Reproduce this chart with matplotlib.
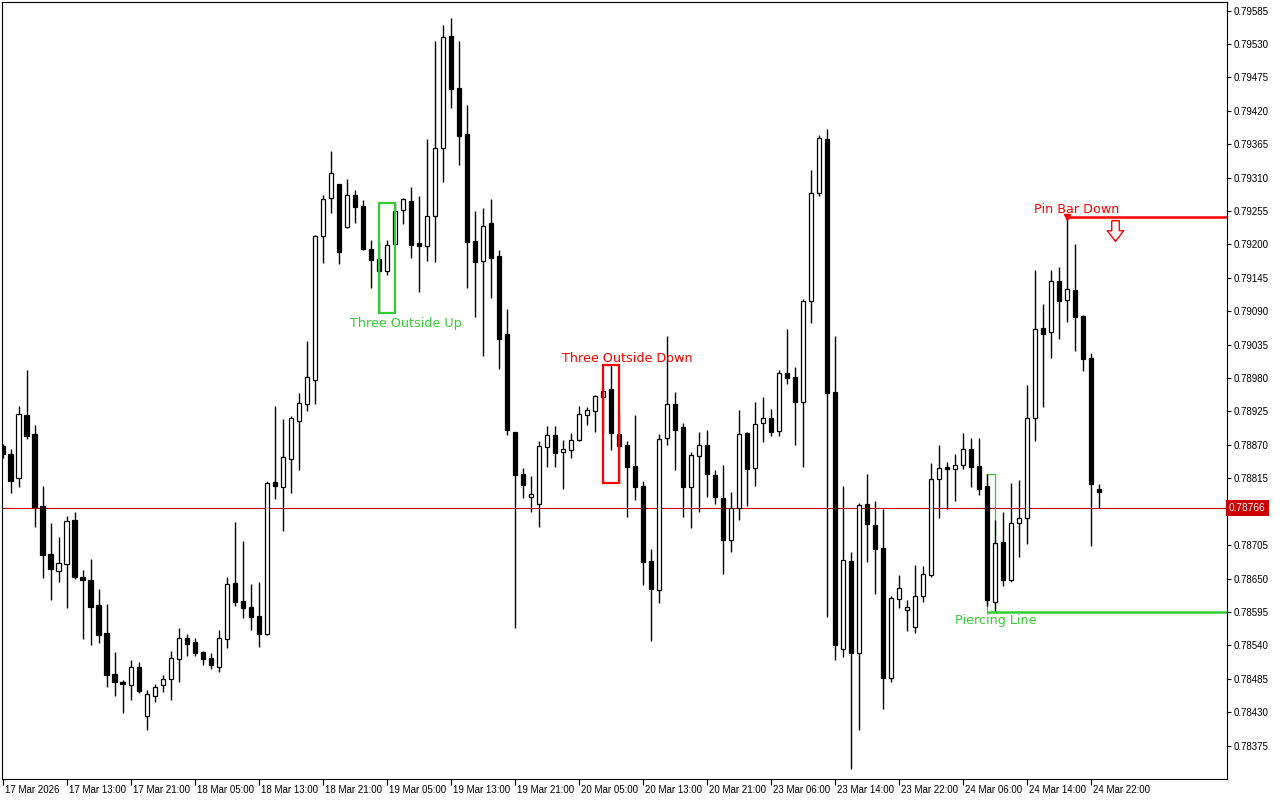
import numpy as np
import matplotlib
matplotlib.use("Agg")
import matplotlib.pyplot as plt
import matplotlib.transforms as mtransforms
from matplotlib.patches import Rectangle
from matplotlib.path import Path

# hourly candles (index 0 = first bar on the left)
opens = [
    0.78868, 0.78855, 0.78815, 0.78919, 0.78888, 0.78770, 0.78690, 0.78663, 0.78674, 0.78746,
    0.78653, 0.78648, 0.78607, 0.78560, 0.78493, 0.78480, 0.78475, 0.78505, 0.78424, 0.78457,
    0.78475, 0.78484, 0.78518, 0.78552, 0.78546, 0.78529, 0.78519, 0.78505, 0.78550, 0.78642,
    0.78613, 0.78603, 0.78588, 0.78559, 0.78809, 0.78801, 0.78847, 0.78910, 0.78937, 0.78976,
    0.79213, 0.79276, 0.79299, 0.79229, 0.79281, 0.79264, 0.79192, 0.79176, 0.79157, 0.79201,
    0.79256, 0.79271, 0.79202, 0.79198, 0.79246, 0.79358, 0.79543, 0.79457, 0.79381, 0.79206,
    0.79173, 0.79235, 0.79181, 0.79052, 0.78891, 0.78822, 0.78784, 0.78773, 0.78867, 0.78886,
    0.78858, 0.78862, 0.78878, 0.78919, 0.78925, 0.78948, 0.78962, 0.78888, 0.78870, 0.78835,
    0.78802, 0.78679, 0.78631, 0.78881, 0.78937, 0.78899, 0.78800, 0.78851, 0.78869, 0.78821,
    0.78783, 0.78713, 0.78766, 0.78890, 0.78832, 0.78906, 0.78915, 0.78893, 0.78989, 0.78982,
    0.78941, 0.79107, 0.79284, 0.79374, 0.78957, 0.78534, 0.78679, 0.78527, 0.78773, 0.78738,
    0.78700, 0.78487, 0.78616, 0.78599, 0.78570, 0.78621, 0.78655, 0.78814, 0.78833, 0.78830,
    0.78837, 0.78863, 0.78835, 0.78802, 0.78612, 0.78710, 0.78647, 0.78742, 0.78750, 0.78915,
    0.79063, 0.79055, 0.79139, 0.79108, 0.79125, 0.79082, 0.79013, 0.78798,
]
highs = [
    0.78872, 0.78864, 0.78934, 0.78994, 0.78903, 0.78802, 0.78741, 0.78718, 0.78753, 0.78760,
    0.78664, 0.78682, 0.78633, 0.78608, 0.78529, 0.78483, 0.78516, 0.78513, 0.78467, 0.78477,
    0.78491, 0.78531, 0.78569, 0.78559, 0.78552, 0.78530, 0.78528, 0.78565, 0.78652, 0.78743,
    0.78712, 0.78641, 0.78645, 0.78810, 0.78934, 0.78913, 0.78918, 0.78955, 0.79041, 0.79215,
    0.79281, 0.79354, 0.79300, 0.79307, 0.79289, 0.79273, 0.79207, 0.79204, 0.79208, 0.79268,
    0.79277, 0.79295, 0.79280, 0.79374, 0.79534, 0.79561, 0.79573, 0.79535, 0.79430, 0.79255,
    0.79260, 0.79275, 0.79191, 0.79094, 0.78892, 0.78832, 0.78818, 0.78876, 0.78901, 0.78901,
    0.78878, 0.78890, 0.78934, 0.78932, 0.78952, 0.78964, 0.79001, 0.78923, 0.78876, 0.78919,
    0.78810, 0.78699, 0.78888, 0.79049, 0.78957, 0.78906, 0.78859, 0.78892, 0.78894, 0.78829,
    0.78837, 0.78793, 0.78928, 0.78891, 0.78940, 0.78949, 0.78929, 0.78993, 0.79061, 0.78999,
    0.79110, 0.79322, 0.79380, 0.79390, 0.79049, 0.78803, 0.78693, 0.78774, 0.78822, 0.78778,
    0.78765, 0.78621, 0.78655, 0.78614, 0.78673, 0.78671, 0.78840, 0.78870, 0.78841, 0.78855,
    0.78890, 0.78881, 0.78882, 0.78822, 0.78746, 0.78759, 0.78807, 0.78812, 0.78969, 0.79158,
    0.79102, 0.79158, 0.79163, 0.79245, 0.79200, 0.79083, 0.79021, 0.78806,
]
lows = [
    0.78849, 0.78791, 0.78800, 0.78880, 0.78735, 0.78651, 0.78615, 0.78645, 0.78602, 0.78649,
    0.78551, 0.78540, 0.78544, 0.78472, 0.78456, 0.78429, 0.78450, 0.78462, 0.78400, 0.78446,
    0.78463, 0.78450, 0.78480, 0.78523, 0.78523, 0.78507, 0.78501, 0.78496, 0.78536, 0.78604,
    0.78585, 0.78565, 0.78538, 0.78557, 0.78781, 0.78728, 0.78791, 0.78829, 0.78925, 0.78937,
    0.79170, 0.79251, 0.79167, 0.79227, 0.79236, 0.79190, 0.79129, 0.79087, 0.79149, 0.79200,
    0.79233, 0.79178, 0.79121, 0.79172, 0.79171, 0.79303, 0.79424, 0.79330, 0.79129, 0.79081,
    0.79017, 0.79111, 0.78995, 0.78886, 0.78568, 0.78782, 0.78759, 0.78735, 0.78834, 0.78834,
    0.78798, 0.78849, 0.78876, 0.78903, 0.78891, 0.78889, 0.78862, 0.78807, 0.78752, 0.78780,
    0.78640, 0.78547, 0.78610, 0.78870, 0.78829, 0.78751, 0.78733, 0.78760, 0.78785, 0.78773,
    0.78657, 0.78694, 0.78746, 0.78770, 0.78803, 0.78875, 0.78884, 0.78884, 0.78971, 0.78869,
    0.78834, 0.79070, 0.79280, 0.78587, 0.78516, 0.78521, 0.78336, 0.78401, 0.78678, 0.78624,
    0.78435, 0.78479, 0.78602, 0.78563, 0.78561, 0.78612, 0.78652, 0.78750, 0.78765, 0.78778,
    0.78831, 0.78801, 0.78787, 0.78604, 0.78595, 0.78637, 0.78645, 0.78686, 0.78707, 0.78877,
    0.78933, 0.79013, 0.79045, 0.79073, 0.79025, 0.78991, 0.78704, 0.78766,
]
closes = [
    0.78855, 0.78811, 0.78920, 0.78884, 0.78768, 0.78689, 0.78666, 0.78675, 0.78744, 0.78653,
    0.78648, 0.78603, 0.78557, 0.78491, 0.78479, 0.78477, 0.78505, 0.78465, 0.78460, 0.78472,
    0.78485, 0.78519, 0.78552, 0.78542, 0.78528, 0.78518, 0.78508, 0.78552, 0.78641, 0.78612,
    0.78601, 0.78586, 0.78559, 0.78807, 0.78802, 0.78850, 0.78914, 0.78939, 0.78981, 0.79214,
    0.79274, 0.79317, 0.79188, 0.79281, 0.79262, 0.79193, 0.79175, 0.79157, 0.79199, 0.79255,
    0.79274, 0.79199, 0.79197, 0.79246, 0.79358, 0.79541, 0.79456, 0.79379, 0.79204, 0.79171,
    0.79231, 0.79178, 0.79045, 0.78895, 0.78821, 0.78804, 0.78789, 0.78868, 0.78886, 0.78856,
    0.78864, 0.78878, 0.78921, 0.78927, 0.78950, 0.78959, 0.78889, 0.78868, 0.78834, 0.78801,
    0.78678, 0.78632, 0.78879, 0.78937, 0.78895, 0.78801, 0.78853, 0.78870, 0.78822, 0.78785,
    0.78713, 0.78766, 0.78888, 0.78831, 0.78904, 0.78914, 0.78892, 0.78989, 0.78980, 0.78940,
    0.79107, 0.79285, 0.79375, 0.78955, 0.78540, 0.78681, 0.78527, 0.78771, 0.78739, 0.78699,
    0.78486, 0.78618, 0.78634, 0.78603, 0.78621, 0.78657, 0.78814, 0.78832, 0.78830, 0.78837,
    0.78864, 0.78834, 0.78798, 0.78614, 0.78708, 0.78647, 0.78741, 0.78750, 0.78915, 0.79060,
    0.79052, 0.79139, 0.79107, 0.79126, 0.79081, 0.79012, 0.78806, 0.78792,
]

time_ticks = [0, 8, 16, 24, 32, 40, 48, 56, 64, 72, 80, 88, 96, 104, 112, 120, 128, 136]
time_labels = ["17 Mar 2026", "17 Mar 13:00", "17 Mar 21:00", "18 Mar 05:00", "18 Mar 13:00",
               "18 Mar 21:00", "19 Mar 05:00", "19 Mar 13:00", "19 Mar 21:00", "20 Mar 05:00",
               "20 Mar 13:00", "20 Mar 21:00", "23 Mar 06:00", "23 Mar 14:00", "23 Mar 22:00",
               "24 Mar 06:00", "24 Mar 14:00", "24 Mar 22:00"]
price_ticks = [0.79585, 0.79530, 0.79475, 0.79420, 0.79365, 0.79310, 0.79255, 0.79200,
               0.79145, 0.79090, 0.79035, 0.78980, 0.78925, 0.78870, 0.78815, 0.78760,
               0.78705, 0.78650, 0.78595, 0.78540, 0.78485, 0.78430, 0.78375]
last_price = 0.78766

# pattern marks: (first bar, last bar)
outside_up = (47, 49)
outside_down = (75, 77)
piercing = (123, 124)
pin_bar = 133

GREEN = "#32CD32"
RED = "#FF0000"

o = np.array(opens)
h = np.array(highs)
l = np.array(lows)
c = np.array(closes)
x = np.arange(len(o))
up = c >= o

fig = plt.figure(figsize=(12.8, 8), dpi=100)
ax = fig.add_axes([2 / 1280, 21 / 800, 1225 / 1280, 777 / 800])
ax.set_xlim(-0.1, 153.0)
ax.set_ylim(0.78320, 0.79599)

# candles
ax.vlines(x, l, h, color="black", linewidth=1.0, zorder=2)
body_lo = np.minimum(o, c)
body_hi = np.maximum(o, c)
ax.bar(x[up], body_hi[up] - body_lo[up], bottom=body_lo[up], width=0.58,
       facecolor="white", edgecolor="black", linewidth=0.9, zorder=3)
ax.bar(x[~up], body_hi[~up] - body_lo[~up], bottom=body_lo[~up], width=0.58,
       facecolor="black", edgecolor="black", linewidth=0.9, zorder=3)

# current price line
ax.axhline(last_price, color="#CC0000", linewidth=0.8, zorder=1)

# Three Outside Up
a, b = outside_up
top, bot = h[a:b + 1].max(), l[a:b + 1].min()
ax.add_patch(Rectangle((a, bot), b - a, top - bot, fill=False, edgecolor=GREEN,
                       linewidth=1.6, zorder=4))
ax.annotate("Three Outside Up", (a + 3.4, bot), xytext=(0, -3), textcoords="offset points",
            ha="center", va="top", color=GREEN, fontsize=9.2)

# Three Outside Down
a, b = outside_down
top, bot = h[a:b + 1].max(), l[a:b + 1].min()
ax.add_patch(Rectangle((a, bot), b - a, top - bot, fill=False, edgecolor=RED,
                       linewidth=1.6, zorder=4))
ax.annotate("Three Outside Down", (a + 3.1, top), xytext=(0, 0), textcoords="offset points",
            ha="center", va="bottom", color=RED, fontsize=9.2)

# Piercing Line
a, b = piercing
top, bot = h[a:b + 1].max(), l[a:b + 1].min()
ax.add_patch(Rectangle((a, bot), b - a, top - bot, fill=False, edgecolor=GREEN,
                       linewidth=0.9, zorder=1.5))
ax.hlines(bot, a, 153.0, color=GREEN, linewidth=1.8, zorder=4)
ax.annotate("Piercing Line", (a + 1.1, bot), xytext=(0, -1.5), textcoords="offset points",
            ha="center", va="top", color=GREEN, fontsize=9.2)

# Pin Bar Down
ph = h[pin_bar]
ax.hlines(ph, pin_bar, 153.0, color=RED, linewidth=1.8, zorder=4)
ax.plot([pin_bar], [ph], marker="v", color=RED, markersize=4, zorder=5)
ax.annotate("Pin Bar Down", (pin_bar + 1.25, ph), xytext=(0, 1), textcoords="offset points",
            ha="center", va="bottom", color=RED, fontsize=9.2)
arrow = Path([(-0.32, 1.0), (0.32, 1.0), (0.32, 0.15), (0.7, 0.15), (0.0, -0.75),
              (-0.7, 0.15), (-0.32, 0.15), (-0.32, 1.0)])
ax.plot([pin_bar + 6], [ph - 0.00024], marker=arrow, markersize=17, markerfacecolor="white",
        markeredgecolor=RED, markeredgewidth=1.0, linestyle="none", zorder=5)

# axes styling
for side in ["left", "top", "right", "bottom"]:
    ax.spines[side].set_linewidth(0.8)
ax.yaxis.tick_right()
ax.set_yticks(price_ticks)
ax.set_yticklabels([f"{p:.5f}" for p in price_ticks], fontsize=7, family="Liberation Sans")
ax.tick_params(axis="y", direction="out", length=3, width=0.8, pad=2)
ax.set_xticks(time_ticks)
ax.set_xticklabels(time_labels, fontsize=7, family="Liberation Sans")
ax.tick_params(axis="x", direction="out", length=4, width=0.8, pad=0.5)
shift = mtransforms.ScaledTranslation(2 / 100, 0, fig.dpi_scale_trans)
for lab in ax.get_xticklabels():
    lab.set_horizontalalignment("left")
    lab.set_transform(lab.get_transform() + shift)

# price tag on the axis (covers the 0.78760 label, as in the terminal)
trans = mtransforms.blended_transform_factory(ax.transAxes, ax.transData)
ax.text(1.0015, last_price, f"{last_price:.5f}", transform=trans, ha="left", va="center",
        color="white", fontsize=7.3, family="Liberation Sans", clip_on=False, zorder=10,
        bbox=dict(boxstyle="square,pad=0.3", facecolor="#CC0000", edgecolor="none"))

fig.savefig("out.png", dpi=100, facecolor="white")
